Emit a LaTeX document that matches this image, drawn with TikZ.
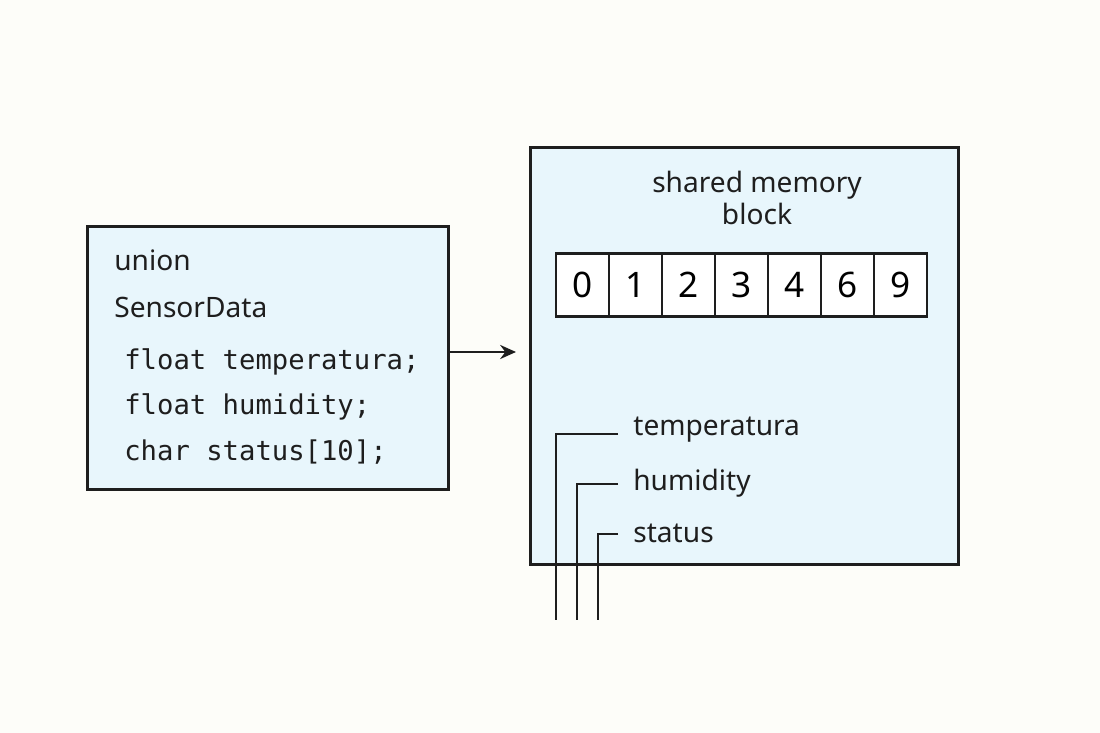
\documentclass[tikz,border=0pt]{standalone}
\usepackage{fontspec}
\setmainfont{Noto Sans}
\newfontfamily\codefont{DejaVu Sans Mono}
\usetikzlibrary{arrows.meta}
\definecolor{bg}{HTML}{FDFDF9}
\definecolor{boxfill}{HTML}{E8F6FC}
\definecolor{ink}{HTML}{1E1E1E}
\tikzset{
 box/.style={draw=ink,line width=1.6pt,fill=boxfill},
 cell/.style={draw=ink,line width=1.4pt,fill=white,minimum width=1.06cm,minimum height=1.26cm,inner sep=0pt,font=\fontsize{20}{22}\selectfont},
 lbl/.style={anchor=west,inner sep=0pt,font=\fontsize{16}{18}\selectfont,text=ink},
 code/.style={anchor=west,inner sep=0pt,font=\codefont\fontsize{15.5}{18}\selectfont,text=ink},
 wire/.style={draw=ink,line width=1.4pt}
}
\begin{document}
\begin{tikzpicture}[x=0.02cm,y=-0.02cm]
\fill[bg] (0,0) rectangle (1100,733);
\useasboundingbox (0,0) rectangle (1100,733);
\node[box,minimum width=7.22cm,minimum height=5.26cm,anchor=north west] (L) at (86,225) {};
\node[box,minimum width=8.56cm,minimum height=8.34cm,anchor=north west] (R) at (529,146) {};
\node[lbl] (u) at (114,260) {union};
\node[lbl] (s) at (114,307) {SensorData};
\node[code] (c1) at (124,362) {float temperatura;};
\node[code] (c2) at (124,407) {float humidity;};
\node[code] (c3) at (124,452) {char status[10];};
\coordinate (a1) at (449,352);
\coordinate (a2) at (516,352);
\draw[wire,-{Stealth[length=9pt,width=8pt]}] (a1) -- (a2);
\node[align=center,inner sep=0pt,font=\fontsize{16}{18}\selectfont,text=ink] (t) at (757,198) {shared memory\\block};
\foreach \v [count=\i] in {0,1,2,3,4,6,9}
  \node[cell] (m\i) at ({556+26.5+53*(\i-1)},285) {\v};
\node[lbl] (lt) at (633,430) {temperatura};
\node[lbl] (lh) at (633,483) {humidity};
\node[lbl] (ls) at (633,533) {status};
\coordinate (e1) at (556,620); \coordinate (e2) at (577,620); \coordinate (e3) at (598,620);
\draw[wire] (618,434) -- (556,434) -- (e1);
\draw[wire] (618,484) -- (577,484) -- (e2);
\draw[wire] (618,534) -- (598,534) -- (e3);
\end{tikzpicture}
\end{document}
